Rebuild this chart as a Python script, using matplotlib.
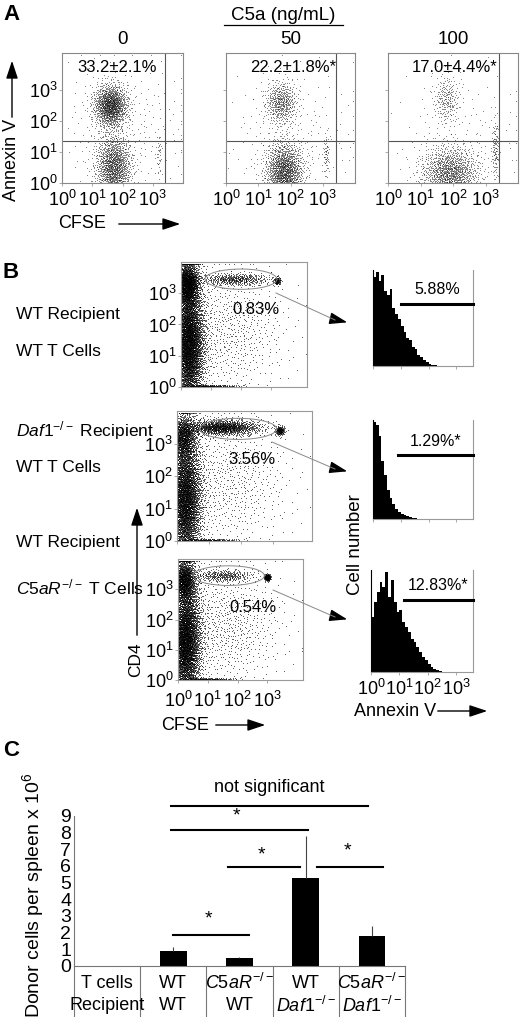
import numpy as np
import matplotlib
matplotlib.use("Agg")
import matplotlib.pyplot as plt
from matplotlib.patches import Ellipse, FancyArrowPatch

plt.rcParams["font.family"] = ["Liberation Sans", "DejaVu Sans"]
plt.rcParams["mathtext.fontset"] = "custom"
plt.rcParams["mathtext.rm"] = "Liberation Sans"
plt.rcParams["mathtext.it"] = "Liberation Sans:italic"
plt.rcParams["mathtext.default"] = "regular"

W, H = 520, 1017

# ============================================================
# DATA
# ============================================================
# Panel A: C5a dose, apoptotic fraction labels
C5A_DOSES = ["0", "50", "100"]
A_PCT = ["33.2±2.1%", "22.2±1.8%*", "17.0±4.4%*"]
# clusters per dose: (cx, cy, sx, sy, n) in log10 units (CFSE, Annexin V)
A_CLUSTERS = [
    [(1.6, 2.5, 0.28, 0.35, 1300), (1.7, 0.5, 0.3, 0.55, 1400), (3.2, 0.9, 0.05, 0.4, 40), (2.0, 1.8, 1.2, 1.2, 250)],
    [(1.7, 2.6, 0.25, 0.35, 500), (1.8, 0.35, 0.3, 0.5, 1500), (3.1, 0.9, 0.05, 0.35, 60), (2.0, 1.5, 1.1, 1.1, 200)],
    [(1.8, 2.7, 0.2, 0.4, 220), (1.9, 0.3, 0.45, 0.45, 1300), (3.3, 1.1, 0.06, 0.5, 110), (2.2, 1.5, 1.1, 1.1, 150)],
]

# Panel B: CFSE vs CD4 clusters (cx, cy, sx, sy, n)
B_ROWS = [r"WT Recipient|WT T Cells", r"$\mathit{Daf1}^{-/-}$ Recipient|WT T Cells",
          r"WT Recipient|$\mathit{C5aR}^{-/-}$ T Cells"]
B_GATE_PCT = ["0.83%", "3.56%", "0.54%"]
B_CLUSTERS = [
    [(0.25, 1.4, 0.25, 1.0, 6000), (0.2, 3.3, 0.2, 0.35, 2000), (1.8, 3.45, 0.6, 0.1, 500),
     (3.2, 3.4, 0.06, 0.06, 120), (1.5, 1.8, 1.0, 1.0, 700), (0.9, 0.03, 0.5, 0.02, 300)],
    [(0.25, 1.3, 0.25, 1.0, 5500), (0.2, 3.2, 0.2, 0.35, 1200), (1.4, 3.5, 0.6, 0.12, 1400),
     (3.2, 3.4, 0.07, 0.07, 200), (1.5, 1.8, 1.0, 1.0, 700), (0.9, 0.03, 0.5, 0.02, 250)],
    [(0.25, 1.3, 0.25, 1.0, 5500), (0.2, 3.3, 0.2, 0.35, 1500), (1.5, 3.45, 0.5, 0.1, 350),
     (3.0, 3.4, 0.05, 0.05, 250), (1.5, 1.8, 1.0, 1.0, 800), (0.9, 0.03, 0.5, 0.02, 250)],
]

# Panel B: Annexin V histograms of gated cells (heights per 0.1 log bin from 10^0)
HIST_TOP = [0.95, 1.0, 0.9, 0.97, 0.8, 0.75, 0.82, 0.62, 0.55, 0.5, 0.42, 0.36, 0.3, 0.28, 0.2,
            0.18, 0.12, 0.1, 0.06, 0.04, 0.02, 0.01, 0.01, 0.005, 0, 0, 0, 0, 0, 0, 0, 0, 0, 0, 0, 0]
HIST_MID = [1.0, 0.97, 0.85, 0.6, 0.45, 0.3, 0.22, 0.15, 0.1, 0.07, 0.05, 0.04, 0.03, 0.02, 0.015,
            0.01, 0.005, 0.005, 0, 0, 0, 0, 0, 0, 0, 0, 0, 0, 0, 0, 0, 0, 0, 0, 0, 0]
HIST_BOT = [0.55, 0.7, 0.8, 0.9, 0.85, 1.0, 0.75, 0.92, 0.7, 0.6, 0.62, 0.5, 0.45, 0.4, 0.33, 0.3,
            0.25, 0.2, 0.15, 0.12, 0.08, 0.05, 0.03, 0.02, 0.01, 0.005, 0, 0, 0, 0, 0, 0, 0, 0, 0, 0]
HISTS = [HIST_TOP, HIST_MID, HIST_BOT]
HIST_PCT = ["5.88%", "1.29%*", "12.83%*"]
HIST_GATE_START = [1.0, 0.9, 1.15]

# Panel C: donor cells per spleen (x 10^6)
C_TCELLS = ["T cells", "WT", r"$\mathit{C5aR}^{-/-}$", "WT", r"$\mathit{C5aR}^{-/-}$"]
C_RECIP = ["Recipient", "WT", "WT", r"$\mathit{Daf1}^{-/-}$", r"$\mathit{Daf1}^{-/-}$"]
C_MEAN = [np.nan, 0.9, 0.5, 5.3, 1.8]
C_ERR = [0, 0.25, 0.05, 2.5, 0.6]


# ============================================================
# HELPERS
# ============================================================
def px_axes(fig, l, t, r, b):
    return fig.add_axes([l / W, 1 - b / H, (r - l) / W, (b - t) / H])


def halton(n, base):
    out = np.zeros(n)
    for i in range(n):
        f, k, x = 1.0, i + 1, 0.0
        while k > 0:
            f /= base
            x += f * (k % base)
            k //= base
        out[i] = x
    return out


def cloud(clusters, xmax, ymax):
    xs, ys = [], []
    for cx, cy, sx, sy, n in clusters:
        u1 = halton(n, 2) * 0.998 + 0.001
        u2 = halton(n, 3)
        r = np.sqrt(-2 * np.log(u1))
        xs.append(cx + sx * r * np.cos(2 * np.pi * u2))
        ys.append(cy + sy * r * np.sin(2 * np.pi * u2))
    x = np.clip(np.concatenate(xs), 0.01, xmax - 0.05)
    y = np.clip(np.concatenate(ys), 0.01, ymax - 0.05)
    return x, y


def log_ticks(ax, axis, n=4, labels=True, size=13):
    ticks = list(range(n))
    lab = [f"$10^{i}$" for i in ticks] if labels else []
    if axis == "x":
        ax.set_xticks(ticks)
        ax.set_xticklabels(lab, fontsize=size)
    else:
        ax.set_yticks(ticks)
        ax.set_yticklabels(lab, fontsize=size)


def arrow(ov, x0, y0, x1, y1, lw=1.0):
    ov.add_patch(FancyArrowPatch((x0, y0), (x1, y1), arrowstyle="-|>,head_length=0.9,head_width=0.3",
                                 mutation_scale=12, lw=lw, color="black"))


def style(ax, spine="#888888"):
    ax.tick_params(length=2, width=0.5, pad=1, colors="#888888", labelcolor="black")
    ax.tick_params(axis="x", pad=3)
    for s in ax.spines.values():
        s.set_color(spine)
        s.set_linewidth(0.8)


# ============================================================
# MAIN
# ============================================================
fig = plt.figure(figsize=(W / 100, H / 100), dpi=100)
ov = fig.add_axes([0, 0, 1, 1], zorder=10)
ov.set_xlim(0, W)
ov.set_ylim(H, 0)
ov.axis("off")
ov.patch.set_alpha(0)

# ---------------- Panel A ----------------
ov.text(3, 14, "A", fontsize=16, fontweight="bold", va="center")
ov.text(283, 16, "C5a (ng/mL)", fontsize=13.5, ha="center", va="center")
ov.plot([224, 343], [25, 25], color="black", lw=0.9)
a_boxes = [(62, 183), (226, 355), (388, 518)]
for i, (l, r) in enumerate(a_boxes):
    ax = px_axes(fig, l, 53, r, 183)
    x, y = cloud(A_CLUSTERS[i], 4.0, 4.2)
    ax.scatter(x, y, s=0.6, c="black", lw=0, alpha=0.55)
    ax.set_xlim(0, 4.0)
    ax.set_ylim(0, 4.2)
    ax.axhline(1.35, color="#555555", lw=0.8)
    ax.axvline(3.4, color="#555555", lw=0.8)
    log_ticks(ax, "x")
    log_ticks(ax, "y", labels=(i == 0))
    style(ax)
    ov.text((l + r) / 2, 40, C5A_DOSES[i], fontsize=13.5, ha="center", va="center")
    ov.text(l + 55 + (12 if i else 0), 67, A_PCT[i], fontsize=12, ha="center", va="center")
ov.text(12, 160, "Annexin V", rotation=90, fontsize=13, ha="center", va="center")
arrow(ov, 12, 120, 12, 58)
ov.text(82, 224, "CFSE", fontsize=13, ha="center", va="center")
arrow(ov, 116, 224, 183, 224)

# ---------------- Panel B ----------------
ov.text(2, 272, "B", fontsize=16, fontweight="bold", va="center")
b_boxes = [(181, 262, 307, 387), (177, 411, 312, 541), (178, 559, 303, 680)]
h_boxes = [(373, 270, 473, 366), (373, 420, 473, 519), (371, 570, 473, 672)]
row_label_y = [(315, 352), (431, 468), (542, 587)]
gate_y = [304, 455, 600]
for i in range(3):
    l, t, r, b = b_boxes[i]
    ax = px_axes(fig, l, t, r, b)
    x, y = cloud(B_CLUSTERS[i], 4.2, 4.0)
    ax.scatter(x, y, s=0.5, c="black", lw=0, alpha=0.5)
    ax.set_xlim(0, 4.2)
    ax.set_ylim(0, 4.0)
    log_ticks(ax, "y")
    log_ticks(ax, "x", labels=(i == 2))
    style(ax, "#999999")
    if i == 2:
        ax.tick_params(axis="x", pad=6)
    ex = [2.0, 1.9, 1.7][i]
    ax.add_patch(Ellipse((ex, 3.45), 2.4, 0.65, fill=False, ec="#888888", lw=0.7))
    ov.text(l + 75, t + 48, B_GATE_PCT[i], fontsize=12, ha="center", va="center")
    ov.plot([l + 95, 335], [t + 31, t + 58], color="#888888", lw=0.7)
    arrow(ov, 333, t + 57, 350, t + 61)
    lines = B_ROWS[i].split("|")
    ov.text(16, row_label_y[i][0], lines[0], fontsize=12.5, va="center")
    ov.text(16, row_label_y[i][1], lines[1], fontsize=12.5, va="center")

    # histogram
    hl, ht, hr, hb = h_boxes[i]
    hax = px_axes(fig, hl, ht, hr, hb)
    vals = np.array(HISTS[i])
    edges = np.arange(len(vals) + 1) * 0.1
    hax.stairs(vals, edges, fill=True, color="black")
    hax.set_xlim(0, 3.6)
    hax.set_ylim(0, 1.02)
    hax.set_yticks([])
    log_ticks(hax, "x", labels=(i == 2))
    style(hax, "#999999")
    hax.spines["left"].set_color("black")
    hax.spines["top"].set_visible(False)
    g0 = hl + HIST_GATE_START[i] * (hr - hl) / 3.6
    ov.plot([g0, hr], [gate_y[i], gate_y[i]], color="black", lw=2.2)
    ov.text((g0 + hr) / 2, gate_y[i] - 14, HIST_PCT[i], fontsize=11.5, ha="center", va="center")

ov.text(136, 660, "CD4", rotation=90, fontsize=12.5, ha="center", va="center")
arrow(ov, 137, 638, 137, 505)
ov.text(185, 725, "CFSE", fontsize=13, ha="center", va="center")
arrow(ov, 213, 725, 268, 725)
ov.text(356, 545, "Cell number", rotation=90, fontsize=13.5, ha="center", va="center")
ov.text(395, 711, "Annexin V", fontsize=13, ha="center", va="center")
arrow(ov, 435, 711, 490, 711)

# ---------------- Panel C ----------------
ov.text(3, 750, "C", fontsize=16, fontweight="bold", va="center")
cax = px_axes(fig, 74, 816, 405, 966)
pos = np.arange(len(C_MEAN))
cax.bar(pos, np.nan_to_num(C_MEAN), width=0.4, color="black")
for p, m, e in zip(pos, C_MEAN, C_ERR):
    if not np.isnan(m):
        cax.errorbar(p, m, yerr=[[0], [e]], color="#444444", lw=0.8, capsize=0)
cax.set_xlim(-0.5, 4.5)
cax.set_ylim(0, 9)
cax.set_yticks(range(10))
cax.tick_params(axis="y", labelsize=14, length=0, pad=2)
cax.set_xticks([])
for k in ["top", "right"]:
    cax.spines[k].set_visible(False)
cax.spines["left"].set_color("#777777")
cax.spines["bottom"].set_color("#777777")
col_w = 331 / 5
for j in range(6):
    xs = 74 + j * col_w
    ov.plot([xs, xs], [966, 1017], color="#777777", lw=0.8)
for j in range(5):
    xc = 74 + (j + 0.5) * col_w
    ov.text(xc, 983, C_TCELLS[j], fontsize=13, ha="center", va="center")
    ov.text(xc, 1006, C_RECIP[j], fontsize=13, ha="center", va="center")
ov.text(33, 895, r"Donor cells per spleen x $10^6$", rotation=90, fontsize=14, ha="center", va="center")
# significance bars
sig = [(171, 368, 806, "not significant", 787), (171, 308, 830, "*", 816),
       (228, 300, 867, "*", 855), (317, 383, 867, "*", 851), (173, 249, 935, "*", 919)]
for x0, x1, yy, lab, ty in sig:
    ov.plot([x0, x1], [yy, yy], color="black", lw=1.5)
    star = lab == "*"
    ov.text((x0 + x1) / 2 - (3 if star else 0), ty, lab, fontsize=14 if star else 13,
            ha="center", va="center")

fig.savefig("out.png", dpi=100)
